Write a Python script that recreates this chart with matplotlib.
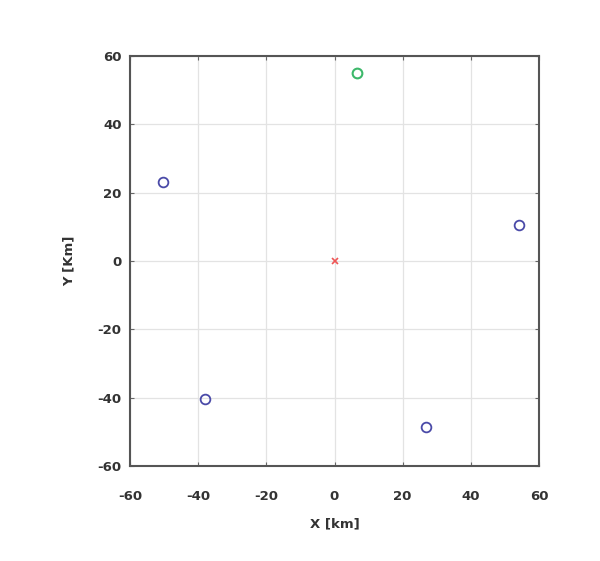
import matplotlib
matplotlib.use("Agg")
import matplotlib.pyplot as plt

plt.rcParams['font.family'] = ['DejaVu Sans Condensed', 'Liberation Sans Narrow', 'DejaVu Sans']
plt.rcParams['axes.unicode_minus'] = False

# receivers (blue), source (green), origin (red)
blue_x = [-50.3, 54.1, -38.0, 26.7]
blue_y = [23.2, 10.6, -40.5, -48.6]
green_x = [6.6]
green_y = [55.1]
red_x = [0]
red_y = [0]

ticks = [-60, -40, -20, 0, 20, 40, 60]

fig = plt.figure(figsize=(6, 5.61), dpi=100)
ax = fig.add_axes([130/600, 95/561, 409/600, 410/561])

ax.plot(blue_x, blue_y, 'o', mfc='none', mec='#4a4aa8', ms=7, mew=1.3)
ax.plot(green_x, green_y, 'o', mfc='none', mec='#3cb86a', ms=7, mew=1.5)
ax.plot(red_x, red_y, 'x', color='#ee5555', ms=5, mew=1.2)

ax.set_xlim(-60, 60)
ax.set_ylim(-60, 60)
ax.set_xticks(ticks)
ax.set_yticks(ticks)
ax.grid(True, color='#e3e3e3', lw=0.9)
ax.set_axisbelow(True)
ax.tick_params(direction='in', length=3, top=True, right=True, color='#666666',
               labelsize=9.5)
ax.tick_params(axis='x', pad=17)
ax.tick_params(axis='y', pad=6)
for lab in ax.get_xticklabels() + ax.get_yticklabels():
    lab.set_fontweight('bold')
    lab.set_color('#333333')
for s in ax.spines.values():
    s.set_color('#555555')
    s.set_linewidth(1.5)

ax.set_xlabel('X [km]', fontsize=9.5, fontweight='bold', color='#333333', labelpad=11)
ax.set_ylabel('Y [Km]', fontsize=9.5, fontweight='bold', color='#333333', labelpad=16)

fig.savefig('out.png', dpi=100)
